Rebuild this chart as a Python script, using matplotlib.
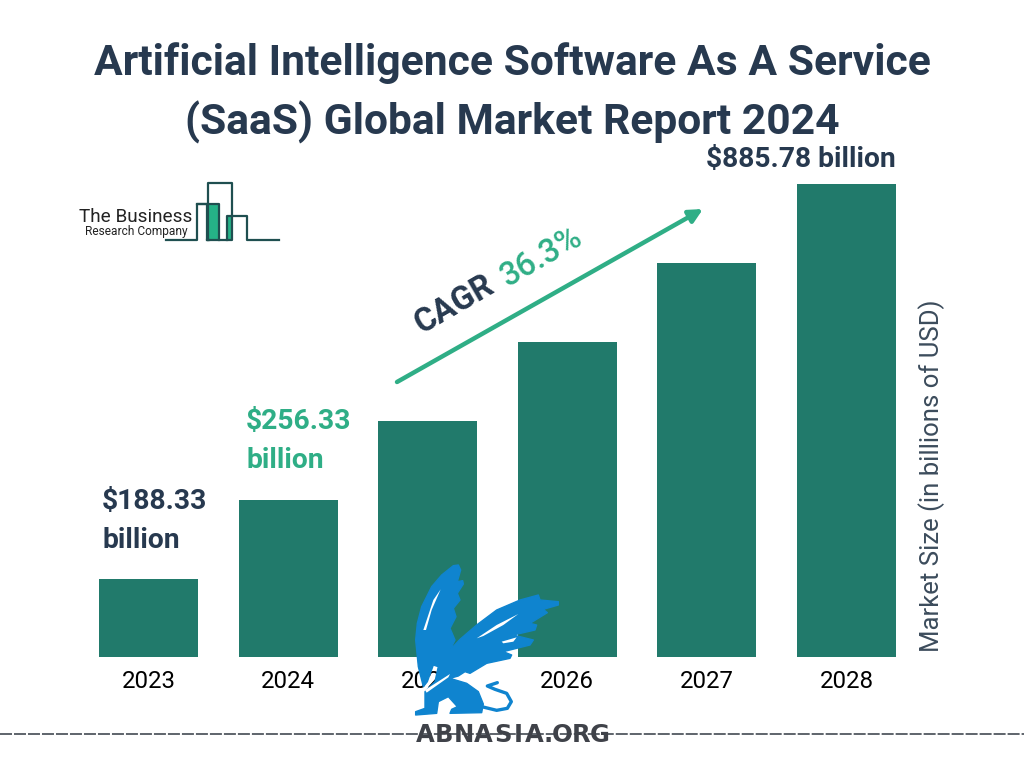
import numpy as np
import matplotlib.pyplot as plt
from matplotlib.patches import Polygon

plt.rcParams['font.family'] = 'Roboto'

# Bar data (heights as drawn in the picture, the bars are not to scale with the labels)
years = ["2023", "2024", "2025", "2026", "2027", "2028"]
heights = [78, 157, 236, 315, 394, 473]

navy = "#27394f"
green = "#2fae86"
bar_color = "#217a6b"
blue = "#0f84cf"

plt.figure(figsize=(10.24, 7.68), dpi=100, facecolor="white")

# Plot bars
plt.axes([78.7 / 1024, (768 - 657) / 768, 837.6 / 1024, 500 / 768])
plt.bar(years, heights, width=0.71, color=bar_color)
plt.xlim(-0.5, 5.5)
plt.ylim(0, 500)
plt.yticks([])
plt.xticks(fontsize=17.3, color="black")
plt.tick_params(axis='x', length=0, pad=9)
for side in ['top', 'right', 'left', 'bottom']:
    plt.gca().spines[side].set_visible(False)
plt.gca().patch.set_alpha(0)

# Everything else sits on a second axes that counts in pixels
plt.axes([0, 0, 1, 1])
plt.xlim(0, 1024)
plt.ylim(768, 0)
plt.axis('off')
ax = plt.gca()

# Title
plt.text(512, 63, "Artificial Intelligence Software As A Service", fontsize=30.7, fontweight='bold',
         color=navy, ha='center', va='center')
plt.text(512, 122, "(SaaS) Global Market Report 2024", fontsize=30.7, fontweight='bold',
         color=navy, ha='center', va='center')

# Value labels
plt.text(896, 159, "$885.78 billion", fontsize=20.3, fontweight='bold', color=navy, ha='right', va='center')
plt.text(246, 421, "$256.33", fontsize=20.3, fontweight='bold', color=green, va='center')
plt.text(246, 460, "billion", fontsize=20.3, fontweight='bold', color=green, va='center')
plt.text(102, 502, "$188.33", fontsize=20.3, fontweight='bold', color=navy, va='center')
plt.text(102, 541, "billion", fontsize=20.3, fontweight='bold', color=navy, va='center')

# Axis title on the right
plt.text(932, 476, "Market Size (in billions of USD)", fontsize=18.5, color="#3c4c5c",
         rotation=90, ha='center', va='center')

# CAGR arrow
plt.annotate("", xy=(703, 209), xytext=(397, 382),
             arrowprops=dict(arrowstyle="-|>", color=green, lw=3.2, mutation_scale=20,
                             shrinkA=0, shrinkB=0))
plt.text(454, 305, "CAGR", fontsize=23.5, fontweight='bold', color=navy, rotation=30,
         rotation_mode='anchor', ha='center', va='center')
plt.text(542, 257, "36.3%", fontsize=23.5, fontweight='medium', color=green, rotation=30,
         rotation_mode='anchor', ha='center', va='center')

# Company logo
logo = "#1f4f50"
plt.plot([166, 197, 197, 207, 207, 209], [240, 240, 204, 204, 240, 240], color=logo, lw=1.6)
plt.plot([197, 219, 219], [204, 204, 240], color=logo, lw=1.6)
plt.plot([208, 208, 232, 232, 207], [240, 183, 183, 240, 240], color=logo, lw=1.6)
plt.plot([227, 227, 247, 247, 279], [240, 216, 216, 240, 240], color=logo, lw=1.6)
ax.add_patch(Polygon([(209, 204), (219, 204), (219, 240), (209, 240)], color="#25b287", lw=0))
ax.add_patch(Polygon([(228, 217), (232, 217), (232, 240), (228, 240)], color="#25b287", lw=0))
plt.text(79, 217, "The Business", fontsize=13.7, color="#222222", va='center')
plt.text(85, 231, "Research Company", fontsize=8.6, color="#222222", va='center')

# Dashed rule along the bottom
plt.plot([0, 1024], [734, 734], color="#333a44", lw=1.1, linestyle=(0, (7.85, 1.31)))

# Watermark, griffin outline (zoomed crop coordinates)
griffin = np.array([
    (137, 270), (142, 220), (155, 170), (185, 110), (215, 75), (250, 47), (265, 45), (272, 60),
    (262, 95), (278, 92), (280, 102), (262, 130), (270, 150), (250, 175), (258, 200), (240, 235),
    (255, 270), (240, 300), (270, 268), (320, 225), (380, 180), (450, 150), (505, 135), (510, 150),
    (565, 155), (565, 165), (520, 178), (532, 188), (480, 220), (500, 225), (495, 240), (430, 255),
    (490, 270), (480, 285), (400, 305), (425, 315), (420, 325), (350, 340), (300, 370), (285, 365),
    (265, 378), (240, 385), (290, 400), (325, 425), (340, 462), (335, 488), (240, 490),
    (245, 478), (262, 470), (235, 440), (205, 455), (200, 490), (137, 495), (137, 485),
    (165, 475), (165, 425), (195, 395), (205, 350), (190, 345), (172, 395), (160, 410), (145, 350),
]) / 3 + (370, 550)
ax.add_patch(Polygon(griffin, facecolor=blue, edgecolor=blue, lw=1, joinstyle='round'))
for slit in [[(320, 265), (380, 225), (445, 192), (400, 225), (340, 258)],
             [(395, 275), (440, 262), (430, 275), (400, 280)],
             [(165, 420), (240, 372), (235, 382), (170, 428)],
             [(160, 240), (190, 150), (212, 118), (185, 180), (168, 240)]]:
    ax.add_patch(Polygon(np.array(slit) / 3 + (370, 550), color="white", lw=0))
tail = np.array([(335, 470), (380, 481), (412, 475), (424, 455), (410, 430), (375, 418),
                 (352, 408), (382, 398)]) / 3 + (370, 550)
plt.plot(tail[:, 0], tail[:, 1], color=blue, lw=2.4, solid_capstyle='round')

# Watermark text, one letter at a time to get the wide spacing
letter_x = [425, 444, 464, 483, 503, 518, 534, 548, 562, 581, 600]
for letter, x in zip("ABNASIA.ORG", letter_x):
    ax.text(x, 734.5, letter, fontsize=17.5, family="DejaVu Sans", fontweight='bold',
            color="#3f4249", ha='center', va='center')

plt.savefig("out.png", dpi=100)
plt.close()
